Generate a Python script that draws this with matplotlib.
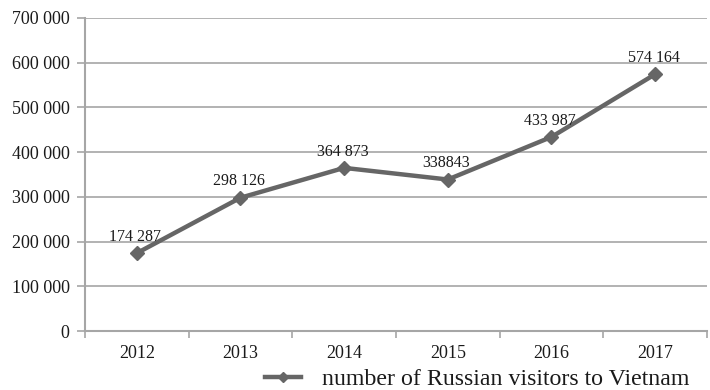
import matplotlib
matplotlib.use("Agg")
import matplotlib.pyplot as plt
from matplotlib.ticker import FuncFormatter, FixedLocator
import numpy as np

years = ["2012", "2013", "2014", "2015", "2016", "2017"]
visitors = [174287, 298126, 364873, 338843, 433987, 574164]
value_labels = ["174 287", "298 126", "364 873", "338843", "433 987", "574 164"]
series_name = "number of Russian visitors to Vietnam"

plt.rcParams['font.family'] = ['Liberation Serif', 'DejaVu Serif']

fig = plt.figure(figsize=(7.1, 3.9), dpi=100)
ax = fig.add_axes([0.1197, 0.151, 0.876, 0.803])

x = np.arange(len(years))
line_color = "#666666"
grid_color = "#a6a6a6"
ax.plot(x, visitors, color=line_color, lw=3.2, marker='D', markersize=7,
        markerfacecolor=line_color, markeredgecolor=line_color, label=series_name, zorder=3)

for xi, v, lab in zip(x, visitors, value_labels):
    ax.annotate(lab, (xi, v), xytext=(-1, 6), textcoords='offset points',
                ha='center', va='bottom', fontsize=11.5, color='#1a1a1a')

ax.set_xlim(-0.5, len(years) - 0.5)
ax.set_ylim(0, 700000)
ax.set_yticks(np.arange(0, 700001, 100000))
ax.yaxis.set_major_formatter(FuncFormatter(lambda v, p: "0" if v == 0 else f"{int(v):,}".replace(",", " ")))
ax.grid(axis='y', color=grid_color, lw=1.2)
ax.set_axisbelow(True)

ax.set_xticks(x)
ax.set_xticklabels(years)
ax.xaxis.set_minor_locator(FixedLocator(np.arange(-0.5, len(years) + 0.5, 1.0)))
ax.tick_params(axis='x', which='major', length=0, pad=10, labelsize=13, labelcolor='#1a1a1a')
ax.tick_params(axis='x', which='minor', length=5, color=grid_color, width=1.2)
ax.tick_params(axis='y', length=6, color=grid_color, width=1.2, labelsize=13, pad=5, labelcolor='#1a1a1a')

for s in ['top', 'right']:
    ax.spines[s].set_visible(False)
for s in ['left', 'bottom']:
    ax.spines[s].set_color(grid_color)
    ax.spines[s].set_linewidth(1.5)

leg = fig.legend(loc='center left', bbox_to_anchor=(0.343, 0.028), frameon=False,
                 fontsize=17.2, handlelength=1.5, handletextpad=0.9, labelcolor='#1a1a1a',
                 markerscale=0.8)

fig.savefig("out.png", dpi=100)
